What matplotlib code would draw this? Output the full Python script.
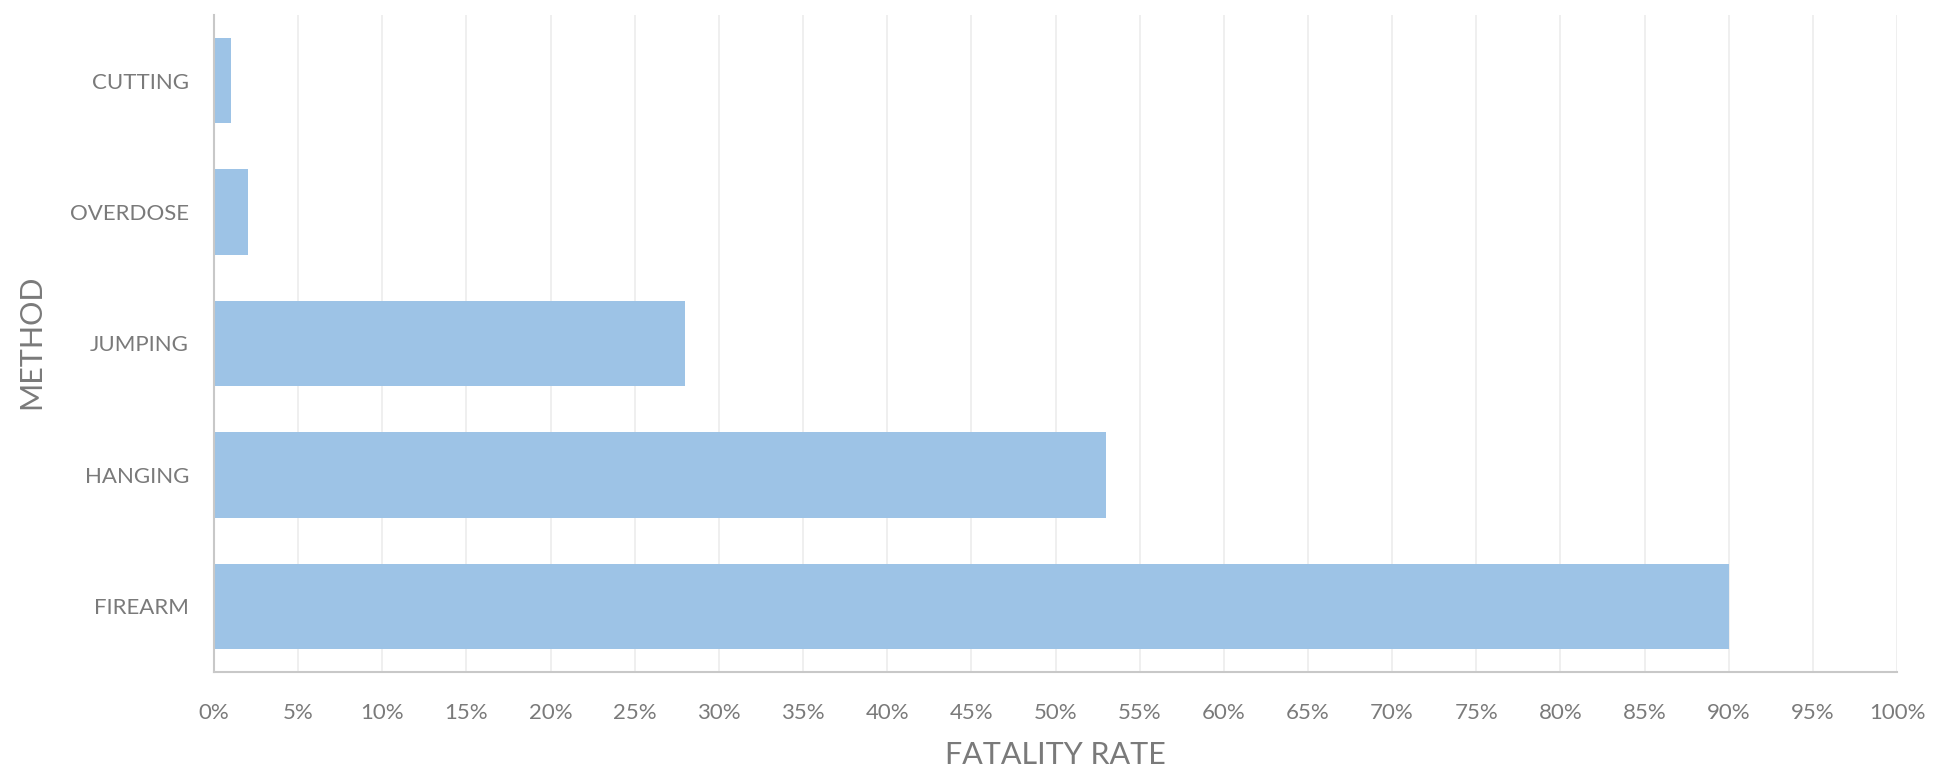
import matplotlib
matplotlib.use("Agg")
import matplotlib.pyplot as plt
from matplotlib.ticker import MultipleLocator, FuncFormatter

methods = ["CUTTING", "OVERDOSE", "JUMPING", "HANGING", "FIREARM"]
fatality_rate = [1, 2, 28, 53, 90]

bar_color = "#9DC3E6"
text_color = "#7a7a7a"
font = ["Lato", "DejaVu Sans"]

fig = plt.figure(figsize=(19.51, 7.73), dpi=100)
ax = fig.add_axes([214/1951, 1-672/773, (1897-214)/1951, (672-15)/773])

ypos = list(range(len(methods)))
ax.barh(ypos, fatality_rate, height=0.65, color=bar_color, zorder=2)
ax.set_ylim(len(methods)-0.5, -0.5)
ax.set_yticks(ypos)
ax.set_yticklabels(methods)
ax.set_xlim(0, 100)
ax.xaxis.set_major_locator(MultipleLocator(5))
ax.xaxis.set_major_formatter(FuncFormatter(lambda v, p: f"{int(round(v))}%"))
ax.grid(axis="x", color="#ececec", linewidth=1.2, zorder=0)
ax.set_axisbelow(True)

for s in ["top", "right"]:
    ax.spines[s].set_visible(False)
for s in ["left", "bottom"]:
    ax.spines[s].set_color("#c8c8c8")
    ax.spines[s].set_linewidth(1.5)

ax.tick_params(axis="both", length=0, labelcolor=text_color, labelsize=16)
ax.tick_params(axis="x", pad=22)
ax.tick_params(axis="y", pad=18)
for lab in ax.get_xticklabels() + ax.get_yticklabels():
    lab.set_family(font)
    lab.set_color(text_color)

fig.text(0.5 * (214 + 1897) / 1951, 1 - 755/773, "FATALITY RATE", ha="center", va="center",
         fontsize=22, color=text_color, family=font)
fig.text(31/1951, 1 - 342/773, "METHOD", ha="center", va="center", rotation=90,
         fontsize=22, color=text_color, family=font)

fig.savefig("out.png", dpi=100, facecolor="white")
